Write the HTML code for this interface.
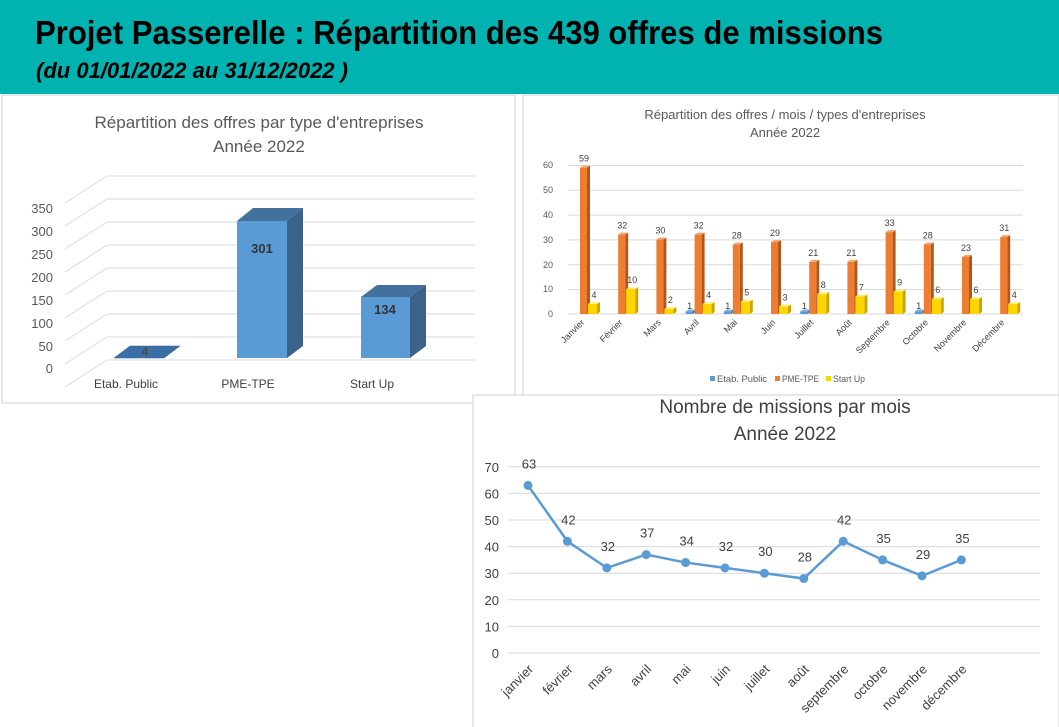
<!DOCTYPE html>
<html><head><meta charset="utf-8"><style>
body{margin:0;background:#fff;}
svg{display:block;font-family:"Liberation Sans",sans-serif;}
</style></head><body>
<svg width="1059" height="727" viewBox="0 0 1059 727" xmlns="http://www.w3.org/2000/svg">
<rect width="1059" height="727" fill="#fff"/>
<rect width="1059" height="94" fill="#00B2B0"/>
<text x="35" y="44" font-size="33" font-weight="bold" fill="#000" textLength="848" lengthAdjust="spacingAndGlyphs">Projet Passerelle : Répartition des 439 offres de missions</text>
<text x="36" y="78" font-size="22" font-weight="bold" font-style="italic" fill="#000" textLength="312" lengthAdjust="spacingAndGlyphs">(du 01/01/2022  au 31/12/2022 )</text>

<!-- Chart 1 -->
<rect x="2" y="95" width="513" height="308" fill="#fff" stroke="#d0d0d0"/>
<g fill="#595959" text-anchor="middle" font-size="17">
<text x="259" y="128">Répartition des offres par type d'entreprises</text>
<text x="259" y="152">Année 2022</text>
</g>
<g stroke="#d9d9d9" stroke-width="1" fill="none">
<path d="M107 176H475M107 199H475M107 222H475M107 245H475M107 268H475M107 291H475M107 314H475M107 337H475M107 360H475"/>
<path d="M107 176L65 203M107 199L65 226M107 222L65 249M107 245L65 272M107 268L65 295M107 291L65 318M107 314L65 341M107 337L65 364M107 360L65 387"/>
</g>
<g fill="#595959" font-size="13" text-anchor="end">
<text x="53" y="213">350</text><text x="53" y="236">300</text><text x="53" y="259">250</text><text x="53" y="282">200</text><text x="53" y="305">150</text><text x="53" y="328">100</text><text x="53" y="351">50</text><text x="53" y="373">0</text>
</g>
<polygon points="114,358 164,358 180,346 130,346" fill="#3a6ea5" stroke="#2e5c8a" stroke-width="0.5"/>
<rect x="237" y="221" width="50" height="137" fill="#5b9bd5"/>
<polygon points="237,221 287,221 303,208 253,208" fill="#41719c"/>
<polygon points="287,221 303,208 303,346 287,358" fill="#3a628a"/>
<rect x="361" y="297" width="49" height="61" fill="#5b9bd5"/>
<polygon points="361,297 410,297 426,285 377,285" fill="#41719c"/>
<polygon points="410,297 426,285 426,346 410,358" fill="#3a628a"/>
<g fill="#333" font-size="13" font-weight="bold" text-anchor="middle">
<text x="262" y="253">301</text><text x="385" y="314">134</text><text x="145" y="356" font-weight="normal" fill="#444">4</text>
</g>
<g fill="#404040" font-size="12" text-anchor="middle">
<text x="126" y="388">Etab. Public</text><text x="248" y="388">PME-TPE</text><text x="372" y="388">Start Up</text>
</g>

<!-- Chart 2 -->
<rect x="523" y="95" width="536" height="300" fill="#fff" stroke="#d0d0d0"/>
<g fill="#595959" text-anchor="middle" font-size="13">
<text x="785" y="119">Répartition des offres / mois / types d'entreprises</text>
<text x="785" y="137">Année 2022</text>
</g>
<g stroke="#d9d9d9">
<path d="M568 165.5H1023M568 190.3H1023M568 215.1H1023M568 239.9H1023M568 264.7H1023M568 289.5H1023M568 314H1023"/>
</g>
<g fill="#595959" font-size="9" text-anchor="end">
<text x="553" y="168">60</text><text x="553" y="193">50</text><text x="553" y="218">40</text><text x="553" y="243">30</text><text x="553" y="268">20</text><text x="553" y="292">10</text><text x="553" y="317">0</text>
</g>
<g id="bars2"></g>
<g fill="#404040" font-size="9" text-anchor="end" id="m2"></g>
<g font-size="9" fill="#595959">
<rect x="710" y="376" width="5" height="5" fill="#5b9bd5"/><text x="717" y="382" textLength="50" lengthAdjust="spacingAndGlyphs">Etab. Public</text>
<rect x="775" y="376" width="5" height="5" fill="#ed7d31"/><text x="782" y="382" textLength="37" lengthAdjust="spacingAndGlyphs">PME-TPE</text>
<rect x="826" y="376" width="5" height="5" fill="#ffd500"/><text x="833" y="382" textLength="32" lengthAdjust="spacingAndGlyphs">Start Up</text>
</g>

<!-- Chart 3 -->
<rect x="473" y="395" width="586" height="340" fill="#fff" stroke="#d0d0d0"/>
<g fill="#404040" text-anchor="middle" font-size="19">
<text x="785" y="413">Nombre de missions par mois</text>
<text x="785" y="440">Année 2022</text>
</g>
<g stroke="#d9d9d9" id="g3"></g>
<g fill="#404040" font-size="13" text-anchor="end" id="y3"></g>
<g id="l3"></g>

<script>
var ns="http://www.w3.org/2000/svg";
function el(p,t,a,txt){var e=document.createElementNS(ns,t);for(var k in a)e.setAttribute(k,a[k]);if(txt!==undefined)e.textContent=txt;p.appendChild(e);return e;}
var months=["Janvier","Février","Mars","Avril","Mai","Juin","Juillet","Août","Septembre","Octobre","Novembre","Décembre"];
var pme=[59,32,30,32,28,29,21,21,33,28,23,31],su=[4,10,2,4,5,3,8,7,9,6,6,4],ep=[0,0,0,1,1,0,1,0,0,1,0,0];
var b=document.getElementById("bars2"),m2=document.getElementById("m2");
var y0=314,k=2.48;
function bar(x,v,w,f,s,t){var h=v*k;el(b,"polygon",{points:[x+w,y0-h,x+w+3,y0-h-2,x+w+3,y0-2,x+w,y0].join(" "),fill:s});
el(b,"polygon",{points:[x,y0-h,x+w,y0-h,x+w+3,y0-h-2,x+3,y0-h-2].join(" "),fill:t});
el(b,"rect",{x:x,y:y0-h,width:w,height:h,fill:f});}
for(var i=0;i<12;i++){var c=580+38.2*i;
if(ep[i]){bar(c-9,1,7,"#5b9bd5","#41719c","#7fb2e0");el(b,"text",{x:c-5,y:y0-5,"font-size":9,fill:"#404040","text-anchor":"middle"},"1");}
bar(c,pme[i],7,"#ed7d31","#b4561c","#f4a46a");
bar(c+8,su[i],9,"#ffd500","#c7a600","#fff07a");
el(b,"text",{x:c+4,y:y0-pme[i]*k-6,"font-size":9,fill:"#404040","text-anchor":"middle"},pme[i]);
el(b,"text",{x:c+14,y:y0-su[i]*k-6,"font-size":9,fill:"#404040","text-anchor":"middle"},su[i]);
el(m2,"text",{x:c+5,y:323,transform:"rotate(-45 "+(c+5)+" 323)"},months[i]);}
var g3=document.getElementById("g3"),y3=document.getElementById("y3"),l3=document.getElementById("l3");
var Y0=653,K=2.66;
for(var v=0;v<=70;v+=10){var y=Y0-v*K;el(g3,"line",{x1:508,x2:1040,y1:y,y2:y});el(y3,"text",{x:499,y:y+5},v);}
var tot=[63,42,32,37,34,32,30,28,42,35,29,35],mm=["janvier","février","mars","avril","mai","juin","juillet","août","septembre","octobre","novembre","décembre"];
var pts=[];for(var i=0;i<12;i++)pts.push((528+39.4*i)+","+(Y0-tot[i]*K));
el(l3,"polyline",{points:pts.join(" "),fill:"none",stroke:"#5b9bd5","stroke-width":2.5});
for(var i=0;i<12;i++){var x=528+39.4*i,y=Y0-tot[i]*K;el(l3,"circle",{cx:x,cy:y,r:4.5,fill:"#5b9bd5"});
el(l3,"text",{x:x+1,y:y-17,"font-size":13,fill:"#404040","text-anchor":"middle"},tot[i]);
el(l3,"text",{x:x+6,y:670,"font-size":13,fill:"#404040","text-anchor":"end",transform:"rotate(-45 "+(x+6)+" 670)"},mm[i]);}
</script>
</svg>
</body></html>
